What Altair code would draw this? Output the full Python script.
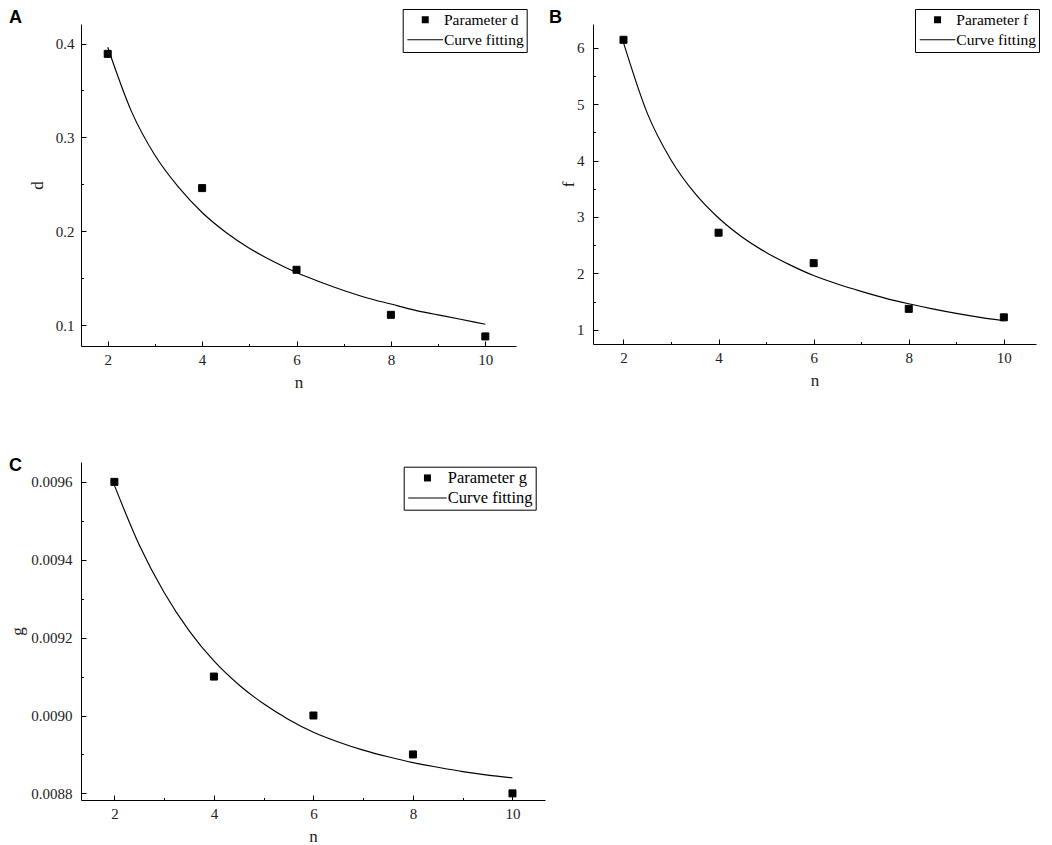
import altair as alt
import pandas as pd

# ---- data ----
n_obs = [2, 4, 6, 8, 10]
d_obs = [0.389, 0.246, 0.159, 0.111, 0.088]
f_obs = [6.14, 2.72, 2.18, 1.37, 1.22]
g_obs = [0.00960, 0.00910, 0.00900, 0.00890, 0.00880]

n_fit = [2, 2.5, 3, 3.5, 4, 4.5, 5, 5.5, 6, 6.5, 7, 7.5, 8, 8.5, 9, 9.5, 10]
d_fit = [0.396, 0.328, 0.281, 0.247, 0.220, 0.199, 0.182, 0.168, 0.156,
         0.146, 0.137, 0.129, 0.1225, 0.116, 0.111, 0.106, 0.101]
f_fit = [6.09, 4.84, 4.01, 3.42, 2.98, 2.64, 2.37, 2.15, 1.96,
         1.81, 1.68, 1.56, 1.46, 1.37, 1.29, 1.22, 1.16]
g_fit = [0.009591, 0.009438, 0.009316, 0.009218, 0.009140, 0.009079, 0.009030,
         0.008990, 0.008957, 0.008932, 0.008911, 0.008894, 0.008879, 0.008867,
         0.008856, 0.008847, 0.008840]

x_major = [2, 4, 6, 8, 10]
x_minor = [3, 5, 7, 9]
d_major = [0.1, 0.2, 0.3, 0.4]
d_minor = [0.15, 0.25, 0.35]
f_major = [1, 2, 3, 4, 5, 6]
f_minor = [1.5, 2.5, 3.5, 4.5, 5.5]
g_major = [0.0088, 0.0090, 0.0092, 0.0094, 0.0096]
g_minor = [0.0089, 0.0091, 0.0093, 0.0095]

SERIF = "Liberation Serif"
SANS = "Liberation Sans"


def panel(letter, ylab, series, obs, fit, xdom, ydom, w, h,
          ymaj, ymin, yfmt, ylabpad, ytitle_x,
          legx, legy, legfont, legrow, symoff, laboff, linepath,
          let_x, let_y):
    pts_df = pd.DataFrame({"n": n_obs, "v": obs, "series": [series] * len(n_obs)})
    fit_df = pd.DataFrame({"n": n_fit, "v": fit})
    xs = alt.Scale(domain=xdom, nice=False, zero=False)
    ys = alt.Scale(domain=ydom, nice=False, zero=False)

    x_axis = alt.Axis(values=x_major, format="d", title="n", orient="bottom",
                      tickSize={"expr": "-5"}, labelPadding=11,
                      titleY=36, titleBaseline="middle")
    y_axis = alt.Axis(values=ymaj, format=yfmt, title=ylab, orient="left",
                      tickSize={"expr": "-5"}, labelPadding=ylabpad,
                      titleX=ytitle_x, titleBaseline="middle", titleAngle=270)
    x_minor_axis = alt.Axis(values=x_minor, labels=False, title=None, orient="bottom",
                            domain=False, tickSize={"expr": "-2.5"})
    y_minor_axis = alt.Axis(values=ymin, labels=False, title=None, orient="left",
                            domain=False, tickSize={"expr": "-2.5"})

    line = alt.Chart(fit_df).mark_line(color="black", strokeWidth=1.15,
                                       interpolate="monotone").encode(
        x=alt.X("n:Q", scale=xs, axis=x_minor_axis),
        y=alt.Y("v:Q", scale=ys, axis=y_minor_axis),
    )
    pts = alt.Chart(pts_df).mark_point(filled=False, fill="black", fillOpacity=1,
                                       size=49, color="black", strokeWidth=1,
                                       opacity=1).encode(
        x=alt.X("n:Q", scale=xs, axis=x_axis),
        y=alt.Y("v:Q", scale=ys, axis=y_axis),
        shape=alt.Shape(
            "series:N",
            scale=alt.Scale(domain=[series, "Curve fitting"],
                            range=["square", linepath]),
            legend=alt.Legend(
                title=None, orient="none", legendX=legx, legendY=legy,
                direction="vertical", strokeColor="black", fillColor="white",
                padding=3, cornerRadius=0, labelFont=SERIF,
                labelFontSize=legfont, labelColor="black", symbolSize=49,
                symbolFillColor="black", symbolStrokeColor="black",
                symbolStrokeWidth=0, symbolOffset=symoff, labelOffset=laboff,
                rowPadding=legrow, labelLimit=300),
        ),
    )
    lab = alt.Chart(alt.Data(values=[{"t": letter}])).mark_text(
        font=SANS, fontSize=18, fontWeight="bold", color="black",
        align="left", baseline="top").encode(
        text="t:N", x=alt.value(let_x), y=alt.value(let_y))
    return (alt.layer(line, pts, lab)
            .resolve_axis(x="independent", y="independent")
            .properties(width=w, height=h))


LINE_AB = "M-5.1,-0.15H5.1V0.15H-5.1Z"
LINE_C = "M-5.5,-0.15H5.5V0.15H-5.5Z"

A = panel("A", "d", "Parameter d", d_obs, d_fit, [1.434, 10.65], [0.0778, 0.4208],
          435, 322, d_major, d_minor, ".1f", 12, -43.5,
          321.7, -15, 15.5, 3, 11.8, 11, LINE_AB, -72, -15)
B = panel("B", "f", "Parameter f", f_obs, f_fit, [1.359, 10.676], [0.747, 6.42],
          443, 320, f_major, f_minor, "d", 14, -24.5,
          322, -15, 15.5, 3, 11.8, 11, LINE_AB, -44, -15)
C = panel("C", "g", "Parameter g", g_obs, g_fit, [1.329, 10.654], [0.008783, 0.009651],
          464, 338, g_major, g_minor, ".4f", 14, -64,
          322.7, 4.7, 16.5, 3, 12.5, 12, LINE_C, -72, -5)

top = alt.hconcat(A, B, spacing=21).resolve_scale(shape="independent")
chart = (alt.vconcat(top, C, spacing=67)
         .resolve_scale(shape="independent")
         .properties(padding={"left": 0, "top": 0, "right": 0, "bottom": 0})
         .configure_view(strokeWidth=0)
         .configure_axis(grid=False, domainColor="black", tickColor="black",
                         domainWidth=1, tickWidth=1,
                         labelFont=SERIF, labelFontSize=15, labelColor="#222",
                         titleFont=SERIF, titleFontSize=17, titleFontWeight="normal",
                         titleColor="#222"))

chart.save("out.html", embed_options={"renderer": "svg", "actions": False})
